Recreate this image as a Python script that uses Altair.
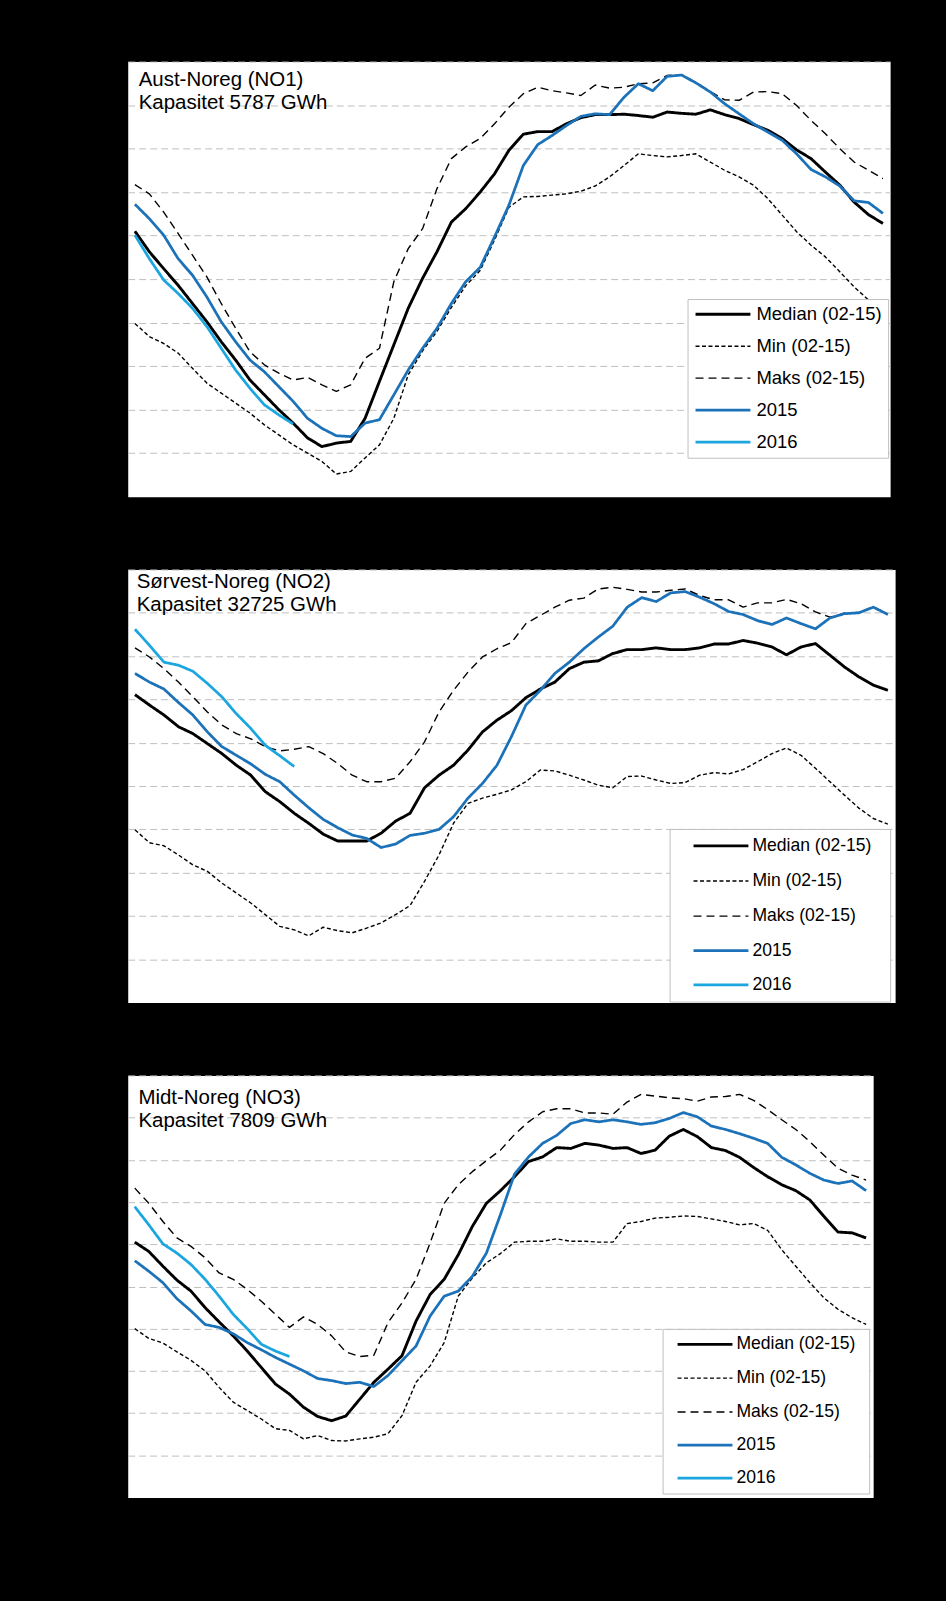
import altair as alt
import pandas as pd

FONT = "Liberation Sans"

uker = list(range(1, 54))
serier = ["Median (02-15)", "Min (02-15)", "Maks (02-15)", "2015", "2016"]
farger = ["#000000", "#000000", "#000000", "#1C72B8", "#1BA6DF"]
streker = [[1, 0], [4, 2.5], [8, 5], [1, 0], [1, 0]]
breidder = [2.9, 1.4, 1.4, 2.75, 2.75]

# --- Aust-Noreg (NO1) ---
no1_median = [61.0, 56.3, 52.4, 48.6, 44.4, 40.2, 35.6, 31.4, 26.8, 23.4, 20.0, 16.9, 13.5, 11.5, 12.3, 12.7, 18.0,
              26.5, 34.9, 43.3, 50.2, 56.3, 63.1, 66.2, 70.0, 74.2, 79.6,
              83.3, 83.9, 83.9, 85.7, 87.1, 87.8, 87.8, 87.9, 87.6, 87.2, 88.4, 88.1, 87.9, 88.9, 87.8, 86.9, 85.5,
              84.2, 82.3, 79.7, 77.7, 74.6, 71.6, 67.7, 64.8, 62.8]
no1_min = [39.8, 36.8, 35.2, 33.0, 29.5, 26.1, 23.8, 21.5, 19.2, 16.5, 14.2, 11.9, 10.0, 8.1, 5.2, 5.8, 8.9, 11.9,
           18.0, 28.0, 33.5, 38.0, 43.5, 48.5, 52.0, 59.0, 66.5,
           68.9, 69.0, 69.3, 69.6, 70.2, 71.4, 73.5, 76.1, 78.8, 78.4, 78.1, 78.4, 78.8, 76.9, 75.0, 73.5, 71.6,
           68.5, 64.7, 60.9, 57.8, 55.1, 51.7, 48.2, 45.2, 42.1]
no1_maks = [71.7, 69.6, 65.4, 60.5, 55.5, 50.5, 44.4, 38.7, 33.3, 30.3, 28.4, 26.8, 27.4, 25.7, 24.2, 25.7, 31.8,
            34.1, 49.4, 57.0, 61.6, 70.8, 77.7, 80.4, 82.3, 85.7, 89.5,
            92.6, 94.1, 93.3, 92.8, 92.2, 94.6, 93.9, 94.1, 94.9, 95.1, 96.8, 97.0, 95.2, 93.1, 91.2, 91.1, 93.0,
            93.1, 92.6, 89.9, 86.5, 83.4, 80.0, 76.9, 75.0, 73.1]
no1_2015 = [67.2, 63.9, 60.1, 54.7, 50.9, 45.9, 40.2, 35.6, 31.4, 28.7, 25.3, 21.9, 18.0, 15.7, 14.0, 13.8, 16.9,
            17.7, 23.4, 29.1, 34.1, 38.7, 44.4, 49.4, 52.7, 59.7, 67.0,
            76.1, 80.9, 83.0, 85.3, 87.4, 88.0, 87.8, 91.8, 94.9, 93.3, 96.6, 96.9, 95.1, 93.0, 90.3, 88.0, 85.7,
            83.8, 81.9, 78.8, 75.2, 73.5, 71.4, 68.0, 67.6, 65.1]
no1_2016 = [60.1, 54.7, 49.8, 46.7, 43.3, 39.1, 34.1, 29.1, 24.9, 21.1, 18.8, 16.7]

# --- Sørvest-Noreg (NO2) ---
no2_median = [71.1, 68.7, 66.4, 63.7, 62.1, 59.8, 57.5, 54.8, 52.5, 48.7, 46.4, 43.7, 41.4, 38.9, 37.3, 37.3, 37.3,
              39.1, 41.9, 43.7, 49.6, 52.5, 54.8, 58.3, 62.5, 65.2, 67.4,
              70.4, 72.4, 74.0, 77.1, 78.6, 78.9, 80.6, 81.5, 81.5, 81.9, 81.5, 81.5, 81.9, 82.8, 82.8, 83.6, 83.0,
              82.1, 80.3, 82.1, 82.9, 80.2, 77.5, 75.2, 73.3, 72.1]
no2_min = [39.9, 36.9, 36.2, 34.1, 31.8, 30.3, 27.6, 25.3, 23.0, 20.3, 17.6, 16.8, 15.4, 17.4, 16.6, 16.1, 17.2,
           18.4, 20.3, 22.4, 28.0, 34.1, 41.4, 46.0, 47.2, 48.1, 49.1,
           51.0, 53.7, 53.5, 52.5, 51.4, 50.2, 49.6, 52.2, 52.3, 51.4, 50.6, 50.8, 52.5, 53.1, 52.8, 53.8, 55.6,
           57.5, 58.8, 57.1, 54.1, 51.0, 47.9, 44.9, 42.5, 41.2]
no2_maks = [81.9, 79.8, 77.1, 74.0, 70.6, 67.1, 64.1, 62.1, 60.9, 59.1, 58.1, 58.5, 59.1, 57.5, 55.2, 52.5, 51.0,
            51.0, 51.8, 55.6, 60.2, 67.1, 72.1, 76.3, 79.8, 81.7, 83.1,
            87.5, 89.4, 91.3, 92.9, 93.4, 95.5, 95.9, 95.4, 94.8, 94.8, 95.2, 95.5, 94.0, 93.0, 93.0, 91.3, 92.3,
            92.3, 93.1, 92.1, 90.2, 89.0, 89.9, 90.1, 91.4, 89.7]
no2_2015 = [76.0, 74.0, 72.4, 69.3, 66.4, 62.5, 59.1, 57.1, 55.1, 52.7, 51.0, 47.9, 45.0, 42.3, 40.4, 38.7, 37.9,
            35.8, 36.6, 38.6, 39.1, 40.0, 42.9, 47.2, 50.6, 54.8, 61.4,
            68.7, 72.1, 76.0, 78.6, 81.7, 84.4, 86.9, 91.3, 93.5, 92.6, 94.6, 94.9, 93.6, 92.1, 90.3, 89.6, 88.2,
            87.3, 88.8, 87.5, 86.3, 88.8, 89.8, 90.0, 91.3, 89.6]
no2_2016 = [86.2, 82.5, 78.6, 77.9, 76.5, 73.7, 70.6, 66.7, 63.3, 59.4, 57.0, 54.5]

# --- Midt-Noreg (NO3) ---
no3_median = [60.5, 58.3, 54.8, 51.5, 48.9, 45.0, 41.6, 38.3, 34.7, 30.8, 26.9, 24.5, 21.4, 19.2, 18.2, 19.3, 23.3,
              27.3, 30.4, 33.6, 41.8, 48.1, 51.7, 57.5, 64.2, 69.7, 72.7,
              76.0, 79.6, 80.7, 82.9, 82.7, 83.9, 83.5, 82.7, 82.9, 81.5, 82.3, 85.6, 87.2, 85.5, 82.9, 82.2, 80.6,
              78.2, 76.0, 74.1, 72.7, 70.5, 66.6, 62.9, 62.7, 61.5]
no3_min = [40.0, 37.7, 36.6, 34.5, 32.5, 30.0, 26.1, 22.6, 20.6, 18.6, 16.3, 15.9, 13.9, 14.7, 13.5, 13.4, 13.9,
           14.3, 15.1, 19.4, 27.3, 31.2, 36.7, 47.7, 52.0, 55.6, 57.8,
           60.5, 60.7, 60.7, 61.3, 60.7, 60.7, 60.5, 60.5, 64.9, 65.4, 66.2, 66.4, 66.7, 66.6, 66.0, 65.4, 64.6,
           64.9, 63.3, 58.7, 54.8, 50.9, 47.3, 44.6, 42.6, 41.0]
no3_maks = [73.3, 69.7, 65.4, 61.5, 59.5, 56.8, 53.2, 51.7, 49.3, 46.5, 43.4, 40.3, 42.8, 41.0, 38.3, 34.5, 33.4,
            33.7, 41.4, 46.1, 51.7, 60.3, 69.7, 74.1, 77.2, 79.8, 82.3,
            86.0, 89.0, 91.4, 92.1, 92.1, 91.1, 91.1, 90.8, 93.7, 95.5, 95.1, 94.7, 94.5, 93.9, 94.9, 95.0, 95.5,
            94.1, 91.9, 89.5, 87.2, 84.3, 81.1, 78.0, 76.4, 75.2]
no3_2015 = [56.1, 53.6, 50.9, 47.1, 44.2, 41.0, 40.3, 38.8, 36.7, 35.0, 33.2, 31.6, 30.0, 28.2, 27.7, 27.0, 27.3,
            26.3, 28.9, 32.4, 35.9, 43.0, 47.7, 48.9, 52.4, 57.9, 67.0,
            76.6, 80.7, 83.9, 85.8, 88.6, 89.5, 89.0, 89.5, 89.0, 88.4, 88.8, 89.8, 91.2, 90.2, 88.0, 87.2, 86.2,
            85.1, 83.9, 80.6, 78.8, 76.8, 75.2, 74.4, 75.0, 72.7]
no3_2016 = [68.9, 64.6, 60.1, 57.9, 55.2, 51.7, 47.7, 43.4, 40.0, 36.3, 34.7, 33.4]

titlar = [
    ["Aust-Noreg (NO1)", "Kapasitet 5787 GWh"],
    ["Sørvest-Noreg (NO2)", "Kapasitet 32725 GWh"],
    ["Midt-Noreg (NO3)", "Kapasitet 7809 GWh"],
]

# legend symbol: a horizontal stroke whose drawn length is longer than its nominal size
SYMBOL = "M-3.667,0H3.667"


def lag_df(serie_verdiar):
    rader = []
    for namn, verdiar in zip(serier, serie_verdiar):
        for uke, v in zip(uker, verdiar):
            rader.append({"uke": uke, "fyllingsgrad": v, "serie": namn})
    return pd.DataFrame(rader)


def panel(serie_verdiar, tittel, width, height, tx, ty, lh,
          leg_x, leg_y, pad, sym_off, lab_off, lab_size, row_pad, ekstra):
    df = lag_df(serie_verdiar)
    leg_args = dict(
        orient="none", legendX=leg_x, legendY=leg_y,
        symbolType=SYMBOL, symbolSize=225, symbolOffset=sym_off,
        labelFont=FONT, labelFontSize=lab_size, labelColor="black", labelOffset=lab_off,
        padding=pad, rowPadding=row_pad, fillColor="white", strokeColor="#BFBFBF",
    )
    if ekstra:
        # an empty (white, 1px) title to the right widens the legend box
        leg_args.update(title="\u00a0", titleOrient="right", titleFontSize=1, titleColor="white",
                        titlePadding=ekstra)
    else:
        leg_args["title"] = None
    leg = alt.Legend(**leg_args)
    linjer = alt.Chart(df).mark_line(strokeJoin="round").encode(
        x=alt.X("uke:Q", scale=alt.Scale(domain=[0.5, 53.5], nice=False, zero=False), axis=None),
        y=alt.Y("fyllingsgrad:Q", scale=alt.Scale(domain=[0, 100], nice=False),
                axis=alt.Axis(values=list(range(10, 101, 10)), labels=False, ticks=False, domain=False,
                              grid=True, gridColor="#BFBFBF", gridDash=[7, 4], gridWidth=1,
                              title=None, minExtent=0)),
        color=alt.Color("serie:N", scale=alt.Scale(domain=serier, range=farger), legend=leg),
        strokeDash=alt.StrokeDash("serie:N", scale=alt.Scale(domain=serier, range=streker), legend=leg),
        strokeWidth=alt.StrokeWidth("serie:N", scale=alt.Scale(type="ordinal", domain=serier, range=breidder),
                                    legend=leg),
    )
    tekst = alt.Chart(pd.DataFrame({"tekst": ["\n".join(tittel)]})).mark_text(
        align="left", baseline="alphabetic", font=FONT, fontSize=20.5, color="black",
        lineBreak="\n", lineHeight=lh,
    ).encode(x=alt.value(tx), y=alt.value(ty), text="tekst:N")
    return alt.layer(linjer, tekst).properties(width=width, height=height)


p1 = panel([no1_median, no1_min, no1_maks, no1_2015, no1_2016], titlar[0], 764, 436,
           11, 24.7, 23.3, 561, 238, 6, 20.25, 24.25, 18.5, 13, 0)
p2 = panel([no2_median, no2_min, no2_maks, no2_2015, no2_2016], titlar[1], 769, 434,
           9, 18.7, 23, 543, 260, 8, 34.5, 22.5, 17.6, 16.3, 11)
p3 = panel([no3_median, no3_min, no3_maks, no3_2015, no3_2016], titlar[2], 747, 423,
           10.7, 28.3, 23.4, 536, 254, 6.5, 27, 22.5, 17.6, 15, 7)

chart = alt.vconcat(p1, p2, p3, spacing=71).resolve_scale(
    x="independent", y="independent", color="independent",
    strokeDash="independent", strokeWidth="independent",
).properties(
    padding={"left": 127, "top": 59, "right": 50, "bottom": 103},
).configure(background="black").configure_view(fill="white", stroke="transparent")

chart.save("out.html", embed_options={"renderer": "svg", "actions": False})
